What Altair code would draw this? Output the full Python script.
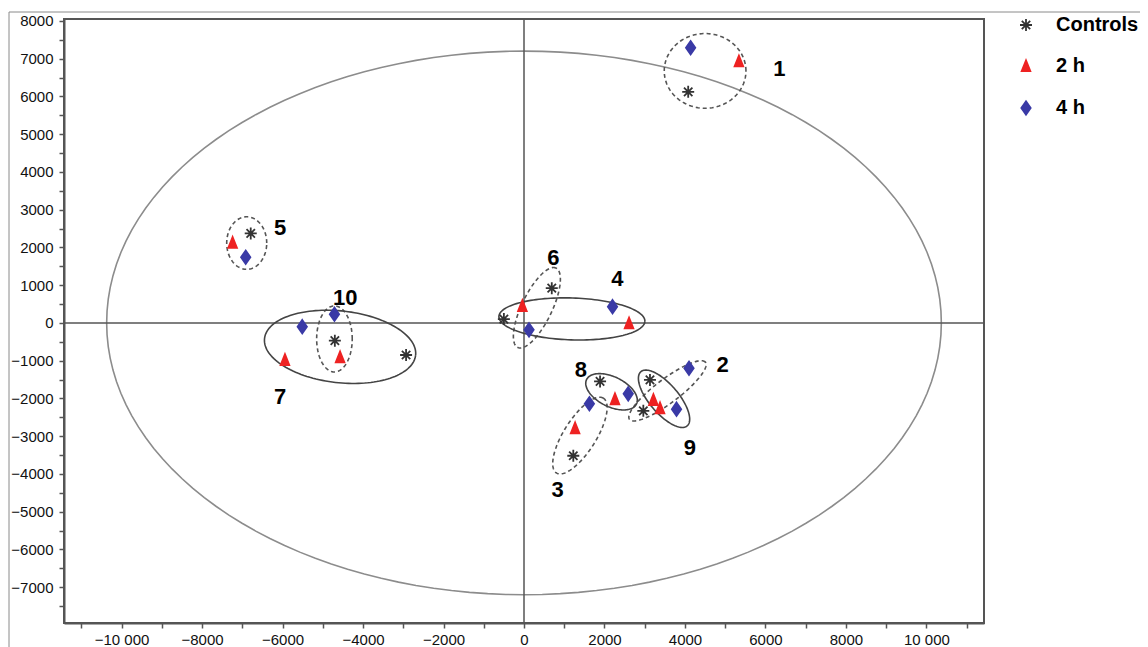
import altair as alt
import numpy as np
import pandas as pd

# ---------------- data ----------------
groups = ["Controls", "2 h", "4 h"]

ctrl_x = [4080, -6790, -4700, -2930, 690, -500, 1890, 1225, 3130, 2965]
ctrl_y = [6120, 2370, -470, -850, 920, 100, -1550, -3520, -1510, -2330]

h2_x = [5340, -7240, -5940, -4570, -40, 2610, 2260, 1270, 3215, 3380]
h2_y = [6930, 2125, -980, -910, 450, -10, -2020, -2790, -2040, -2260]

h4_x = [4140, -6915, -5510, -4710, 125, 2200, 2590, 1625, 3790, 4100]
h4_y = [7290, 1740, -100, 230, -185, 430, -1880, -2140, -2285, -1200]

# cluster labels
lab_text = ["1", "2", "3", "4", "5", "6", "7", "8", "9", "10"]
lab_x = [6343, 4936, 837, 2319, -6062, 729, -6062, 1416, 4124, -4440]
lab_y = [6738, -1111, -4418, 1155, 2505, 1711, -1950, -1243, -3316, 670]

# ellipses: centre, semi-axes, rotation (deg), style
ell_id = ["T2", "e1", "e5", "e10", "e7", "e4", "e6", "e8", "e9", "e2", "e3"]
ell_cx = [0, 4500, -6890, -4710, -4570, 1190, 320, 2175, 3480, 3565, 1390]
ell_cy = [0, 6675, 2115, -425, -635, 105, 400, -1825, -2010, -1800, -2985]
ell_a = [10370, 1015, 497, 442, 1890, 1815, 1155, 700, 920, 1210, 1150]
ell_b = [7200, 990, 696, 875, 950, 555, 380, 390, 370, 310, 410]
ell_ang = [0, 0, 0, 0, -7, -2, 66, -29, -52, 39, 60]
ell_style = ["hotelling", "dashed", "dashed", "dashed", "solid", "solid",
             "dashed", "solid", "solid", "dashed", "dashed"]

# ---------------- tables ----------------
pts = pd.DataFrame({
    "x": ctrl_x + h2_x + h4_x,
    "y": ctrl_y + h2_y + h4_y,
    "group": [groups[0]] * len(ctrl_x) + [groups[1]] * len(h2_x) + [groups[2]] * len(h4_x),
})

labels = pd.DataFrame({"x": lab_x, "y": lab_y, "t": lab_text})

t = np.linspace(0, 2 * np.pi, 145)
rows = []
for i, eid in enumerate(ell_id):
    th = np.deg2rad(ell_ang[i])
    ex = ell_cx[i] + ell_a[i] * np.cos(t) * np.cos(th) - ell_b[i] * np.sin(t) * np.sin(th)
    ey = ell_cy[i] + ell_a[i] * np.cos(t) * np.sin(th) + ell_b[i] * np.sin(t) * np.cos(th)
    for k in range(len(t)):
        rows.append({"id": eid, "o": k, "x": ex[k], "y": ey[k], "style": ell_style[i]})
ell = pd.DataFrame(rows)

# ---------------- encodings ----------------
FONT = "Liberation Sans"
x_scale = alt.Scale(domain=[-11430, 11430], nice=False, zero=False)
y_scale = alt.Scale(domain=[-7950, 8050], nice=False, zero=False)

x_axis = alt.Axis(
    values=list(range(-11000, 11001, 1000)),
    labelExpr="abs(datum.value) % 2000 != 0 ? '' : (datum.value <= -10000 ? '\u221210 000' : (datum.value >= 10000 ? '10 000' : format(datum.value, 'd')))",
    grid=False, title=None, domainColor="#555555", domainWidth=2,
    tickColor="#555555", tickWidth=1.5, tickSize=5,
    labelFont=FONT, labelFontSize=15, labelColor="#111111", labelPadding=4,
    labelFlush=False, labelOverlap=False,
)
y_axis = alt.Axis(
    values=list(range(-7500, 8001, 500)),
    labelExpr="datum.value % 1000 != 0 ? '' : format(datum.value, 'd')",
    grid=False, title=None, domainColor="#555555", domainWidth=2,
    tickColor="#555555", tickWidth=1.5, tickSize=5,
    labelFont=FONT, labelFontSize=15, labelColor="#111111", labelPadding=6,
    labelFlush=False, labelOverlap=False,
)

X = lambda f="x": alt.X(f"{f}:Q", scale=x_scale, axis=x_axis)
Y = lambda f="y": alt.Y(f"{f}:Q", scale=y_scale, axis=y_axis)

asterisk = "M0,-1L0,1M-1,0L1,0M-0.7,-0.7L0.7,0.7M-0.7,0.7L0.7,-0.7"
triangle = "M0,-0.95L0.72,0.85L-0.72,0.85Z"
diamond = "M0,-1.12L0.78,0L0,1.12L-0.78,0Z"
shape_range = [asterisk, triangle, diamond]
color_range = ["#333333", "#ee2222", "#3a3aa6"]

legend = alt.Legend(
    title=None, orient="none", legendX=952, legendY=-4, padding=0,
    symbolSize=144, symbolStrokeWidth=1.8, labelOffset=20, rowPadding=21,
    labelFont=FONT, labelFontSize=20, labelFontWeight="bold", labelColor="#000000",
    labelLimit=300,
)

# ---------------- layers ----------------
frame_df = pd.DataFrame({"v": [0]})
border_left = alt.Chart(frame_df).mark_rule(color="#8a8a8a", strokeWidth=1, clip=False).encode(
    x=alt.value(-55), y=alt.value(-7), y2=alt.value(640))
border_top = alt.Chart(frame_df).mark_rule(color="#8a8a8a", strokeWidth=1, clip=False).encode(
    x=alt.value(-55), x2=alt.value(1090), y=alt.value(-7))

zero_v = alt.Chart(frame_df).mark_rule(color="#555555", strokeWidth=1.5).encode(x=X("v"))
zero_h = alt.Chart(frame_df).mark_rule(color="#555555", strokeWidth=1.5).encode(y=Y("v"))

hot = alt.Chart(ell[ell["style"] == "hotelling"]).mark_line(
    color="#8c8c8c", strokeWidth=1.6).encode(x=X(), y=Y(), detail="id:N", order="o:Q")
dashed = alt.Chart(ell[ell["style"] == "dashed"]).mark_line(
    color="#555555", strokeWidth=1.6, strokeDash=[4, 3]).encode(x=X(), y=Y(), detail="id:N", order="o:Q")
solid = alt.Chart(ell[ell["style"] == "solid"]).mark_line(
    color="#444444", strokeWidth=1.6).encode(x=X(), y=Y(), detail="id:N", order="o:Q")

points = alt.Chart(pts).mark_point(filled=True, size=144, strokeWidth=1.8, opacity=1).encode(
    x=X(), y=Y(),
    color=alt.Color("group:N", scale=alt.Scale(domain=groups, range=color_range), legend=legend),
    shape=alt.Shape("group:N", scale=alt.Scale(domain=groups, range=shape_range), legend=legend),
    stroke=alt.Stroke("group:N", scale=alt.Scale(domain=groups, range=color_range), legend=legend),
)

texts = alt.Chart(labels).mark_text(
    font=FONT, fontSize=22, fontWeight="bold", color="#000000", align="center", baseline="middle"
).encode(x=X(), y=Y(), text="t:N")

chart = alt.layer(
    border_left, border_top, hot, zero_v, zero_h, dashed, solid, points, texts
).properties(
    width=920, height=604,
    padding={"left": 56, "top": 11, "right": 156, "bottom": 24},
    autosize=alt.AutoSizeParams(type="none"),
    background="white",
).configure_view(stroke="#555555", strokeWidth=2)

chart.save("out.html", embed_options={"renderer": "svg", "actions": False})
